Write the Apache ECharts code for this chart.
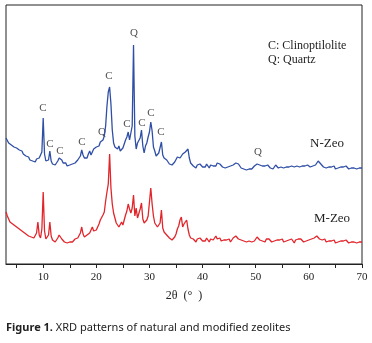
<!DOCTYPE html>
<html>
<head>
<meta charset="utf-8">
<script src="https://cdn.jsdelivr.net/npm/echarts@6/dist/echarts.min.js"></script>
<style>
  html, body { margin: 0; padding: 0; background: #fff; }
  #chart { width: 372px; height: 343px; }
</style>
</head>
<body>
<div id="chart"></div>
<script>
// 2θ sampling: 3° to 70°, every 0.25° (one row below = one whole degree)
const thetaStart = 3
const thetaStep = 0.25

// N-Zeo intensity (arbitrary units, offset trace)
const nZeo = [
  126, 124, 121, 122,  // 3
  119, 120, 117, 118,  // 4
  116, 117, 114, 112,  // 5
  113, 110, 111, 108,  // 6
  106, 107, 104, 105,  // 7
  103, 104, 102, 105,  // 8
  103, 106, 104, 112,  // 9
  146, 110, 103, 101,  // 10
  104, 113, 103, 100,  // 11
  102, 99, 101, 103,   // 12
  106, 108, 104, 101,  // 13
  99, 101, 98, 100,    // 14
  99, 101, 100, 102,   // 15
  101, 103, 104, 106,  // 16
  108, 114, 109, 106,  // 17
  108, 106, 110, 113,  // 18
  109, 112, 115, 114,  // 19
  117, 119, 118, 122,  // 20
  120, 124, 128, 138,  // 21
  158, 172, 177, 160,  // 22
  134, 121, 117, 119,  // 23
  115, 118, 113, 112,  // 24
  116, 118, 124, 127,  // 25
  132, 124, 126, 138,  // 26
  219, 128, 115, 121,  // 27
  119, 126, 134, 118,  // 28
  111, 118, 121, 127,  // 29
  132, 142, 133, 117,  // 30
  113, 108, 107, 111,  // 31
  110, 122, 109, 106,  // 32
  107, 104, 102, 100,  // 33
  101, 99, 100, 102,   // 34
  104, 107, 109, 106,  // 35
  107, 110, 109, 112,  // 36
  110, 115, 106, 101,  // 37
  99, 98, 98, 96,      // 38
  99, 97, 100, 98,     // 39
  97, 99, 97, 100,     // 40
  98, 96, 99, 97,      // 41
  98, 100, 98, 101,    // 42
  103, 100, 99, 97,    // 43
  98, 96, 98, 97,      // 44
  95, 98, 96, 99,      // 45
  98, 101, 103, 100,   // 46
  98, 96, 97, 95,      // 47
  96, 94, 96, 95,      // 48
  97, 95, 96, 98,      // 49
  97, 100, 102, 99,    // 50
  97, 98, 96, 98,      // 51
  97, 99, 97, 96,      // 52
  98, 95, 97, 99,      // 53
  98, 96, 98, 97,      // 54
  99, 96, 98, 97,      // 55
  95, 97, 99, 98,      // 56
  96, 97, 95, 98,      // 57
  96, 97, 99, 98,      // 58
  96, 98, 97, 99,      // 59
  98, 97, 99, 98,      // 60
  100, 99, 101, 103,   // 61
  105, 100, 98, 97,    // 62
  99, 96, 98, 97,      // 63
  95, 97, 96, 98,      // 64
  95, 97, 96, 98,      // 65
  97, 95, 97, 96,      // 66
  98, 96, 95, 97,      // 67
  96, 98, 96, 97,      // 68
  95, 97, 96, 98,      // 69
  96                   // 70
]

// M-Zeo intensity
const mZeo = [
  52, 48, 45, 42,  // 3
  43, 40, 41, 38,  // 4
  39, 36, 37, 34,  // 5
  35, 32, 33, 30,  // 6
  31, 28, 29, 27,  // 7
  28, 26, 27, 31,  // 8
  42, 29, 26, 35,  // 9
  72, 33, 25, 27,  // 10
  29, 42, 28, 24,  // 11
  23, 22, 24, 26,  // 12
  29, 31, 25, 23,  // 13
  22, 24, 21, 23,  // 14
  22, 24, 22, 23,  // 15
  25, 24, 26, 28,  // 16
  31, 37, 30, 27,  // 17
  26, 29, 28, 31,  // 18
  34, 37, 33, 32,  // 19
  34, 37, 40, 44,  // 20
  46, 49, 52, 63,  // 21
  72, 80, 110, 76, // 22
  60, 51, 46, 41,  // 23
  39, 37, 38, 42,  // 24
  39, 44, 49, 53,  // 25
  60, 55, 51, 56,  // 26
  69, 48, 56, 46,  // 27
  47, 55, 61, 45,  // 28
  41, 39, 44, 48,  // 29
  62, 76, 60, 48,  // 30
  41, 39, 37, 38,  // 31
  41, 54, 36, 32,  // 32
  30, 29, 27, 26,  // 33
  25, 24, 26, 27,  // 34
  30, 35, 38, 44,  // 35
  47, 37, 40, 39,  // 36
  44, 35, 29, 26,  // 37
  24, 25, 24, 22,  // 38
  25, 23, 26, 24,  // 39
  23, 25, 23, 26,  // 40
  24, 22, 25, 27,  // 41
  24, 26, 28, 25,  // 42
  24, 26, 23, 25,  // 43
  24, 22, 24, 23,  // 44
  25, 22, 24, 26,  // 45
  25, 28, 27, 25,  // 46
  23, 24, 22, 23,  // 47
  24, 22, 24, 23,  // 48
  25, 22, 24, 23,  // 49
  25, 27, 25, 24,  // 50
  26, 23, 24, 22,  // 51
  25, 23, 25, 24,  // 52
  22, 24, 23, 25,  // 53
  24, 22, 24, 23,  // 54
  25, 22, 24, 23,  // 55
  22, 24, 22, 25,  // 56
  23, 21, 24, 23,  // 57
  25, 23, 25, 24,  // 58
  22, 24, 23, 25,  // 59
  24, 23, 25, 24,  // 60
  26, 25, 28, 26,  // 61
  25, 27, 24, 23,  // 62
  25, 22, 24, 23,  // 63
  21, 23, 22, 24,  // 64
  21, 23, 22, 24,  // 65
  23, 21, 23, 22,  // 66
  24, 22, 21, 23,  // 67
  22, 24, 22, 23,  // 68
  21, 23, 22, 24,  // 69
  22               // 70
]

// peak markers: [2θ, height, phase]
const peakMarks = [
  [9.96, 156, 'C'], [11.28, 120, 'C'], [13.16, 113, 'C'], [17.3, 122, 'C'],
  [21.07, 132, 'Q'], [22.39, 188, 'C'], [25.77, 140, 'C'], [27.09, 231, 'Q'],
  [28.6, 141, 'C'], [30.29, 151, 'C'], [32.17, 132, 'C'], [50.43, 112, 'Q']
]

const xTicks = [5, 10, 15, 20, 25, 30, 35, 40, 45, 50, 55, 60, 65, 70]
const xLabels = [10, 20, 30, 40, 50, 60, 70]

const twoTheta = nZeo.map((_, i) => thetaStart + i * thetaStep)
const pairs = (arr) => arr.map((v, i) => [twoTheta[i], v])

const serif = 'Liberation Serif'
const ink = '#222'

const chart = echarts.init(document.getElementById('chart'))
chart.setOption({
  animation: false,
  title: {
    left: 6,
    top: 322,
    padding: 0,
    text: '{b|Figure 1.} XRD patterns of natural and modified zeolites',
    textStyle: {
      fontFamily: 'Noto Sans',
      fontSize: 11,
      fontWeight: 'normal',
      color: ink,
      rich: { b: { fontFamily: 'Noto Sans', fontSize: 11, fontWeight: 'bold', color: ink } }
    }
  },
  grid: {
    left: 6, right: 10, top: 5, bottom: 79,
    show: true,
    borderColor: ink,
    borderWidth: 1
  },
  xAxis: {
    type: 'value',
    min: 3,
    max: 70,
    name: '2θ  (°  )',
    nameLocation: 'middle',
    nameGap: 26,
    nameTextStyle: { fontFamily: serif, fontSize: 12, color: ink },
    axisLine: { show: true, lineStyle: { color: ink, width: 1 } },
    axisTick: { show: true, length: 4, customValues: xTicks, lineStyle: { color: ink } },
    axisLabel: { customValues: xLabels, fontFamily: serif, fontSize: 11, color: ink, margin: 8 },
    splitLine: { show: false }
  },
  yAxis: {
    type: 'value',
    min: 0,
    max: 259,
    show: false
  },
  graphic: [
    { type: 'text', left: 268, top: 40, style: { text: 'C: Clinoptilolite', font: '12px "Liberation Serif"', fill: ink } },
    { type: 'text', left: 268, top: 54, style: { text: 'Q: Quartz', font: '12px "Liberation Serif"', fill: ink } },
    { type: 'text', left: 310, top: 137, style: { text: 'N-Zeo', font: '13px "Liberation Serif"', fill: ink } },
    { type: 'text', left: 314, top: 212, style: { text: 'M-Zeo', font: '13px "Liberation Serif"', fill: ink } }
  ],
  series: [
    {
      name: 'N-Zeo',
      type: 'line',
      data: pairs(nZeo),
      showSymbol: false,
      sampling: 'none',
      lineStyle: { color: '#2f4fa6', width: 1.3 }
    },
    {
      name: 'M-Zeo',
      type: 'line',
      data: pairs(mZeo),
      showSymbol: false,
      sampling: 'none',
      lineStyle: { color: '#e2252b', width: 1.3 }
    },
    {
      name: 'phases',
      type: 'scatter',
      data: peakMarks,
      symbolSize: 1,
      itemStyle: { color: 'rgba(0,0,0,0)' },
      silent: true,
      label: {
        show: true,
        position: 'inside',
        formatter: (p) => p.data[2],
        fontFamily: serif,
        fontSize: 11,
        color: ink
      }
    }
  ]
})
</script>
</body>
</html>
